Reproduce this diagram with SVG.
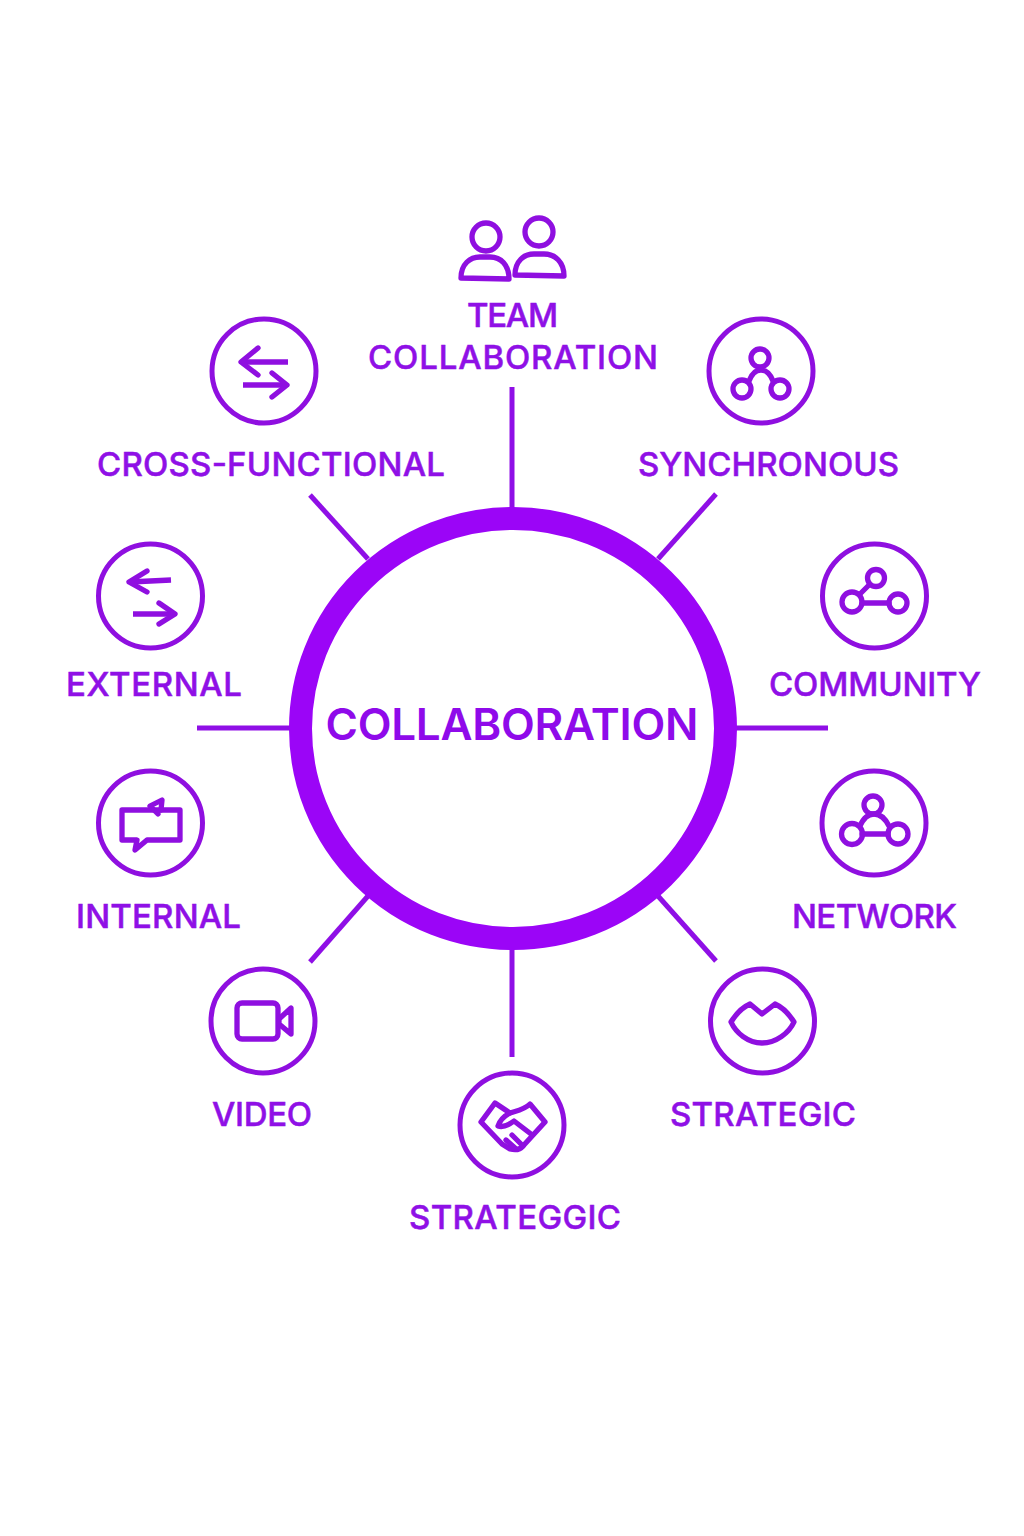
<svg xmlns="http://www.w3.org/2000/svg" width="1024" height="1536" viewBox="0 0 1024 1536">
<style>
.bg{fill:#fff}
.ring{fill:none;stroke:#9b05f7;stroke-width:23}
.conn line{stroke:#8f0fe6;stroke-width:5;fill:none}
.c{fill:none;stroke:#8f0fe0;stroke-width:5}
.i{fill:none;stroke:#8f0fe0;stroke-width:5.300;stroke-linecap:round;stroke-linejoin:round}
text{font-family:"Inter","Liberation Sans",sans-serif;font-weight:500;font-size:33px;fill:#8f10e6;stroke:#8f10e6;stroke-width:0.500;text-anchor:middle}
.main{font-size:44px;font-weight:600;fill:#8f0aea;stroke:none}
</style>
<rect class="bg" width="1024" height="1536"/>
<g id="connectors" class="conn">
<line x1="512" y1="387" x2="512" y2="510"/>
<line x1="716" y1="494" x2="658" y2="559"/>
<line x1="310" y1="495" x2="368" y2="559"/>
<line x1="197" y1="728" x2="292" y2="728"/>
<line x1="732" y1="728" x2="828" y2="728"/>
<line x1="368" y1="896" x2="310" y2="962"/>
<line x1="658" y1="896" x2="716" y2="961"/>
<line x1="512" y1="947" x2="512" y2="1057"/>
</g>
<g id="center"><ellipse class="ring" cx="513" cy="728.500" rx="212.500" ry="210"/><text class="main" x="512" y="739.500" textLength="373">COLLABORATION</text></g>
<g id="team">
<circle class="i" cx="486" cy="237" r="14"/>
<path class="i" d="M461 278C461 264 470 257 480 257H490C501 257 509 265 509 279Z"/>
<circle class="i" cx="539" cy="232" r="14"/>
<path class="i" d="M515 275C515 261 524 254 534 254H544C555 254 564 262 564 276Z"/>
<text x="512.500" y="327" textLength="91">TEAM</text><text x="513" y="369" textLength="290">COLLABORATION</text>
</g>
<g id="cross-functional">
<circle class="c" cx="264" cy="371" r="52"/>
<path class="i" style="stroke-linecap:butt" d="M288 362H241"/><path class="i" d="M258 348L241 362L258 375"/>
<path class="i" style="stroke-linecap:butt" d="M243 385H287"/><path class="i" d="M272 373L287 385L272 397"/>
<text x="271" y="476" textLength="348">CROSS-FUNCTIONAL</text>
</g>
<g id="synchronous">
<circle class="c" cx="761" cy="371" r="52"/>
<circle class="i" cx="760" cy="358" r="9"/><circle class="i" cx="742" cy="389" r="9"/><circle class="i" cx="780" cy="389" r="9"/>
<path class="i" d="M749 381C752 373 756 370 761 370C766 370 770 373 773 381"/>
<text x="768.500" y="476" textLength="261">SYNCHRONOUS</text>
</g>
<g id="external">
<circle class="c" cx="150.500" cy="596" r="52"/>
<path class="i" style="stroke-linecap:butt" d="M171 580L130 582"/><path class="i" d="M147 571L129 582L147 592"/>
<path class="i" style="stroke-linecap:butt" d="M133 614H174"/><path class="i" d="M159 603L175 614L159 624"/>
<text x="154" y="696" textLength="176">EXTERNAL</text>
</g>
<g id="community">
<circle class="c" cx="874.500" cy="596" r="52"/>
<circle class="i" cx="876" cy="578" r="8.500"/><circle class="i" cx="852" cy="602" r="10"/><circle class="i" cx="898" cy="603" r="9"/>
<path class="i" d="M860 594L869 585M862 603H889"/>
<text x="875" y="696" textLength="212">COMMUNITY</text>
</g>
<g id="internal">
<circle class="c" cx="150.500" cy="823" r="52"/>
<path class="i" d="M122 810H180V840H147L135 850L137 840H122Z"/>
<path class="i" d="M158 814L150 806L162 800L161 810"/>
<text x="158.500" y="928" textLength="165">INTERNAL</text>
</g>
<g id="network">
<circle class="c" cx="874" cy="823" r="52"/>
<circle class="i" cx="873" cy="805" r="9"/><circle class="i" cx="852" cy="834" r="10.500"/><circle class="i" cx="898" cy="834" r="10"/>
<path class="i" d="M860 826C864 817 869 814 874 814C880 814 885 818 889 826M862 834H888"/>
<text x="874.500" y="928" textLength="165">NETWORK</text>
</g>
<g id="video">
<circle class="c" cx="263" cy="1021" r="52"/>
<rect class="i" x="237" y="1003" width="41" height="36" rx="5"/>
<path class="i" d="M279 1019L291 1008V1034L279 1024Z"/>
<text x="262" y="1126" textLength="100">VIDEO</text>
</g>
<g id="strategic">
<circle class="c" cx="762.500" cy="1021" r="52"/>
<path class="i" d="M731 1022C736 1014 743 1007 750 1004L762 1014L775 1004C782 1007 789 1014 794 1022C789 1033 776 1043 762 1043C748 1043 736 1033 731 1022Z"/>
<text x="763" y="1126" textLength="186">STRATEGIC</text>
</g>
<g id="strategic-2">
<circle class="c" cx="512" cy="1125" r="52"/>
<path class="i" d="M481 1122L495 1103L510 1113C516 1111 524 1110 530 1104L545 1122L523 1146C519 1151 514 1150 510 1149L502 1144Z"/>
<path class="i" d="M510 1113C504 1116 500 1120 498 1126C504 1128 510 1124 514 1121L531 1134M523 1146L512 1135M515 1148L506 1140"/>
<text x="515" y="1229" textLength="212">STRATEGGIC</text>
</g>
</svg>
